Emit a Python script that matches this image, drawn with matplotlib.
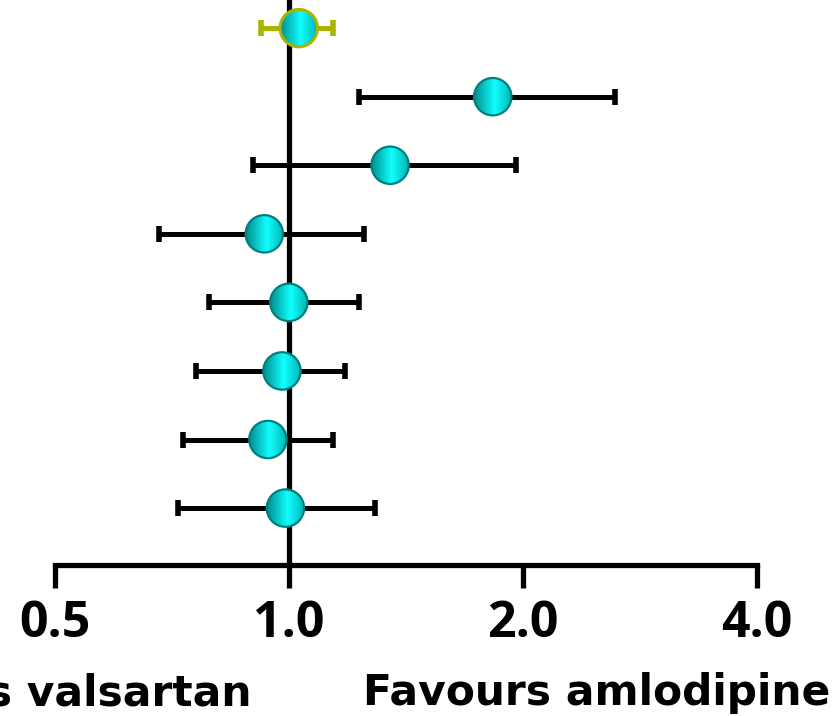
# Forest plot: amlodipine vs valsartan, log2 scale
import numpy as np
import matplotlib
matplotlib.use("Agg")
import matplotlib.pyplot as plt
from matplotlib.patches import Circle
from matplotlib.image import AxesImage
from matplotlib.transforms import ScaledTranslation
from matplotlib.colors import LinearSegmentedColormap
from matplotlib.ticker import NullLocator

# Data (top row is the overall estimate)
estimate = [1.03, 1.83, 1.35, 0.93, 1.00, 0.98, 0.94, 0.99]
lower = [0.92, 1.23, 0.90, 0.68, 0.79, 0.76, 0.73, 0.72]
upper = [1.14, 2.63, 1.96, 1.25, 1.23, 1.18, 1.14, 1.29]
tick_values = [0.5, 1.0, 2.0, 4.0]
tick_labels = ["0.5", "1.0", "2.0", "4.0"]

plt.rcParams['font.family'] = ['Open Sans', 'DejaVu Sans']
plt.rcParams['font.weight'] = 'bold'

fig = plt.figure(figsize=(8.4, 7.16), dpi=100)
ax = fig.add_axes([0, 1 - 565 / 716, 1, 565 / 716])
ax.set_xscale("log", base=2)

rows = np.arange(len(estimate))
est = np.array(estimate)
err = np.array([est - np.array(lower), np.array(upper) - est])

# error bars: overall in olive, the rest in black
ax.errorbar(est[1:], rows[1:], xerr=err[:, 1:], fmt="none", ecolor="black",
            elinewidth=3.6, capsize=6, capthick=4, zorder=2)
ax.errorbar(est[:1], rows[:1], xerr=err[:, :1], fmt="none", ecolor="#a9b300",
            elinewidth=3.6, capsize=6, capthick=4, zorder=2)

# line of no effect
ax.axvline(1.0, color="black", lw=3.8, zorder=3)

# shaded round markers
cmap = LinearSegmentedColormap.from_list(
    "ball", [(0, "#008e8e"), (0.55, "#12ffff"), (1, "#00b2b2")])
grad = np.linspace(0, 1, 64)[None, :]
r = 0.187
for i, (x, y) in enumerate(zip(est, rows)):
    trans = fig.dpi_scale_trans + ScaledTranslation(x, y, ax.transData)
    edge = "#a9b300" if i == 0 else "#007f7f"
    lw = 2.2 if i == 0 else 1.6
    circ = Circle((0, 0), r, transform=trans, facecolor="none",
                  edgecolor=edge, lw=lw, zorder=5)
    im = AxesImage(ax, cmap=cmap, extent=(-r, r, -r, r), transform=trans,
                   interpolation="bilinear", zorder=4)
    im.set_data(grad)
    im.set_clip_path(circ)
    ax.add_image(im)
    ax.add_patch(circ)

ax.set_xlim(0.425, 5.12)
ax.set_ylim(7.83, -0.41)

for s in ["left", "top", "right"]:
    ax.spines[s].set_visible(False)
ax.spines["bottom"].set_linewidth(3.8)
ax.spines["bottom"].set_bounds(0.5, 4.0)
ax.set_yticks([])
ax.set_xticks(tick_values)
ax.set_xticklabels(tick_labels)
ax.xaxis.set_minor_locator(NullLocator())
ax.tick_params(axis="x", direction="out", length=16.5, width=3.8,
               pad=8, labelsize=36)

label_font = dict(fontsize=30.5, fontweight="bold", family=["DejaVu Sans"])
fig.text(252 / 840, 1 - 705 / 716, "Favours valsartan", ha="right",
         va="baseline", **label_font)
fig.text(597 / 840, 1 - 705 / 716, "Favours amlodipine", ha="center",
         va="baseline", **label_font)

fig.savefig("out.png", dpi=100)
